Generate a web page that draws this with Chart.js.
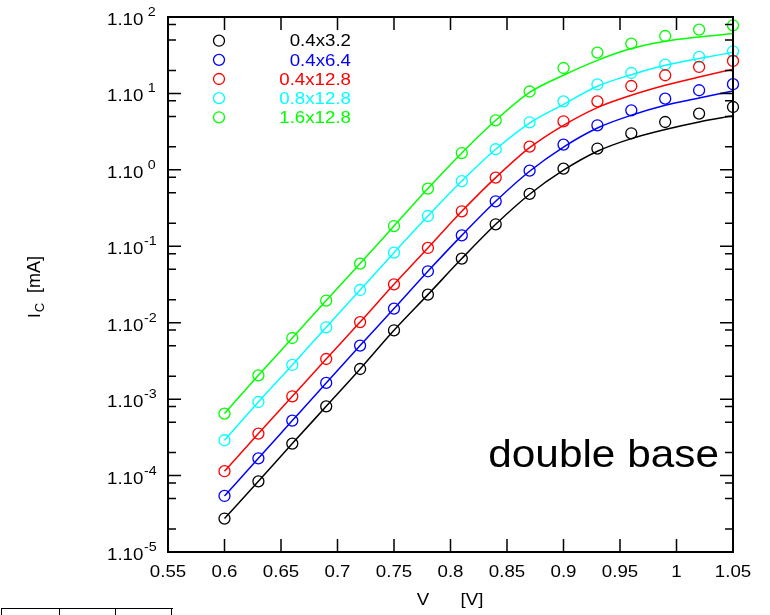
<!DOCTYPE html>
<html>
<head>
<meta charset="utf-8">
<script src="https://cdn.jsdelivr.net/npm/chart.js@4"></script>
<style>
  body { margin: 0; background: #fff; }
  #wrap { position: relative; width: 770px; height: 615px; }
  #tbl { position: absolute; left: 1px; top: 608px; width: 171px; height: 10px;
         border-top: 1.5px solid #000; border-left: 1.5px solid #000; }
  #tbl div { position: absolute; top: 0; height: 10px; border-left: 1.5px solid #000; }
</style>
</head>
<body>
<div id="wrap">
  <canvas id="myChart" width="770" height="615"></canvas>
  <div id="tbl"><div style="left:57px"></div><div style="left:113px"></div><div style="left:169px"></div></div>
</div>
<script>
// data
const volts = [0.60,0.63,0.66,0.69,0.72,0.75,0.78,0.81,0.84,0.87,0.90,0.93,0.96,0.99,1.02,1.05];
const sizes = ['0.4x3.2','0.4x6.4','0.4x12.8','0.8x12.8','1.6x12.8'];
const colors = ['#000000','#0000ff','#ff0000','#00ffff','#00ff00'];

// measured points (circles)
const meas_a = [2.74e-5,8.4e-5,2.62e-4,8.05e-4,2.48e-3,7.96e-3,0.0233,0.069,0.194,0.484,1.04,1.90,3.01,4.23,5.45,6.64];
const meas_b = [5.41e-5,1.68e-4,5.24e-4,1.63e-3,5.02e-3,0.0153,0.0471,0.139,0.388,0.977,2.14,3.83,6.01,8.55,11.0,13.2];
const meas_c = [1.14e-4,3.54e-4,1.09e-3,3.35e-3,0.0102,0.0318,0.0951,0.287,0.792,2.01,4.32,7.88,12.5,17.3,22.2,26.6];
const meas_d = [2.90e-4,9.18e-4,2.80e-3,8.71e-3,0.0268,0.0826,0.249,0.714,1.86,4.19,7.88,13.1,18.5,23.8,30.0,35.6];
const meas_e = [6.47e-4,2.05e-3,6.31e-3,0.0195,0.0594,0.184,0.569,1.66,4.45,10.6,21.5,34.2,44.9,56.4,68.4,77.9];

// fitted curves (lines)
const fit_a = [2.74e-5,8.4e-5,2.62e-4,8.05e-4,2.48e-3,7.96e-3,0.0233,0.069,0.194,0.48,0.99,1.75,2.56,3.37,4.23,5.09];
const fit_b = [5.41e-5,1.68e-4,5.24e-4,1.63e-3,5.02e-3,0.0153,0.0471,0.139,0.388,0.96,1.99,3.53,5.18,7.0,8.71,10.8];
const fit_c = [1.14e-4,3.54e-4,1.09e-3,3.35e-3,0.0102,0.0318,0.0951,0.287,0.792,1.95,3.83,6.53,9.46,12.8,16.4,20.7];
const fit_d = [2.90e-4,9.18e-4,2.80e-3,8.71e-3,0.0268,0.0826,0.249,0.714,1.86,4.1,7.21,12.4,17.6,23.3,28.6,34.5];
const fit_e = [6.47e-4,2.05e-3,6.31e-3,0.0195,0.0594,0.184,0.569,1.66,4.45,10.3,17.3,27.1,38.6,48.1,54.7,60.7];

const xTicks = [0.55,0.6,0.65,0.7,0.75,0.8,0.85,0.9,0.95,1,1.05];
const yExps = [-5,-4,-3,-2,-1,0,1,2];
const yMinor = [2,5,8];

const measured = [meas_a, meas_b, meas_c, meas_d, meas_e];
const fitted = [fit_a, fit_b, fit_c, fit_d, fit_e];

const FONT = '"Liberation Sans", Arial, sans-serif';
const SX = 1.1; // text in the picture is a little wide

const datasets = [];
fitted.forEach((arr, i) => {
  datasets.push({
    data: arr.map((v, k) => ({x: volts[k], y: v})),
    borderColor: colors[i],
    borderWidth: 1.5,
    pointRadius: 0,
    fill: false,
    cubicInterpolationMode: 'monotone'
  });
});
measured.forEach((arr, i) => {
  datasets.push({
    data: arr.map((v, k) => ({x: volts[k], y: v})),
    borderColor: colors[i],
    backgroundColor: 'rgba(0,0,0,0)',
    showLine: false,
    pointRadius: 5.5,
    pointBorderWidth: 1.3,
    clip: false
  });
});

// stretched text helper, returns drawn width
function txt(ctx, s, x, y, size, align) {
  ctx.save();
  ctx.font = size + 'px ' + FONT;
  ctx.textAlign = align || 'left';
  ctx.translate(x, y);
  ctx.scale(SX, 1);
  ctx.fillText(s, 0, 0);
  const w = ctx.measureText(s).width * SX;
  ctx.restore();
  return w;
}

// axes, ticks, labels, legend
const framePlugin = {
  id: 'framePlugin',
  afterDraw(chart) {
    const {ctx, chartArea: {left, right, top, bottom}, scales: {x, y}} = chart;
    ctx.save();
    ctx.strokeStyle = '#000';
    ctx.fillStyle = '#000';
    ctx.lineWidth = 2;
    ctx.strokeRect(left, top, right - left, bottom - top);

    // x ticks
    ctx.lineWidth = 1.5;
    ctx.textBaseline = 'alphabetic';
    xTicks.forEach(v => {
      const px = x.getPixelForValue(v);
      ctx.beginPath();
      ctx.moveTo(px, bottom); ctx.lineTo(px, bottom - 13);
      ctx.moveTo(px, top); ctx.lineTo(px, top + 13);
      ctx.stroke();
      txt(ctx, String(v), px, bottom + 25, 17, 'center');
    });

    // y ticks
    yExps.forEach(e => {
      const py = y.getPixelForValue(Math.pow(10, e));
      ctx.beginPath();
      ctx.moveTo(left, py); ctx.lineTo(left + 13, py);
      ctx.moveTo(right, py); ctx.lineTo(right - 13, py);
      ctx.stroke();
      if (e < 2) {
        yMinor.forEach(m => {
          const pm = y.getPixelForValue(m * Math.pow(10, e));
          ctx.beginPath();
          ctx.moveTo(left, pm); ctx.lineTo(left + 8, pm);
          ctx.moveTo(right, pm); ctx.lineTo(right - 8, pm);
          ctx.stroke();
        });
      }
      const w = txt(ctx, '1.10', 107, py + 8, 17);
      txt(ctx, e >= 0 ? ' ' + e : String(e), 107 + w + 0.5, py - 1, 13);
    });

    // axis titles
    txt(ctx, 'V', 423, 605, 17, 'center');
    txt(ctx, '[V]', 472, 605, 17, 'center');

    ctx.save();
    ctx.translate(40, 318);
    ctx.rotate(-Math.PI / 2);
    ctx.textAlign = 'left';
    ctx.font = '17px ' + FONT;
    ctx.fillText('I', 0, 0);
    let wi = ctx.measureText('I').width;
    ctx.font = '13px ' + FONT;
    ctx.fillText('C', wi + 1, 4);
    wi += ctx.measureText('C').width + 1;
    ctx.font = '18px ' + FONT;
    ctx.fillText('  [mA]', wi, 0);
    ctx.restore();

    // legend
    ctx.textBaseline = 'middle';
    ctx.lineWidth = 1.3;
    sizes.forEach((s, i) => {
      const ly = 40.7 + 19.15 * i;
      ctx.strokeStyle = colors[i];
      ctx.beginPath();
      ctx.arc(219, ly, 5.5, 0, Math.PI * 2);
      ctx.stroke();
      ctx.fillStyle = colors[i];
      txt(ctx, s, 351, ly + 1, 17, 'right');
    });

    // annotation
    ctx.fillStyle = '#000';
    ctx.textBaseline = 'alphabetic';
    txt(ctx, 'double base', 719, 467, 38.5, 'right');
    ctx.restore();
  }
};

const config = {
  type: 'line',
  data: { datasets: datasets },
  options: {
    responsive: false,
    animation: false,
    layout: { padding: { left: 168, right: 37, top: 17, bottom: 63 } },
    plugins: { legend: { display: false }, tooltip: { enabled: false } },
    scales: {
      x: { type: 'linear', min: 0.55, max: 1.05, display: false },
      y: { type: 'logarithmic', min: 1e-5, max: 1e2, display: false }
    }
  },
  plugins: [framePlugin]
};

const myChart = new Chart(document.getElementById('myChart'), config);
</script>
</body>
</html>
